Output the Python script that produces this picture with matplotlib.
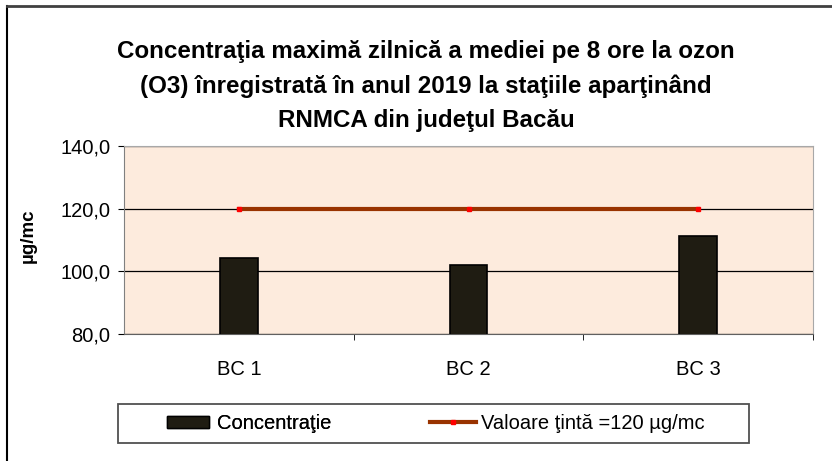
#!/usr/bin/env python3
# Concentratia maxima zilnica O3 - Bacau 2019

import matplotlib.pyplot as plt
from matplotlib.patches import Rectangle
from matplotlib.lines import Line2D

statii = ['BC 1', 'BC 2', 'BC 3']
concentratie = [104.4, 101.9, 111.3]
valoare_tinta = [120, 120, 120]
y_ticks = [80, 100, 120, 140]
y_labels = ['80,0', '100,0', '120,0', '140,0']

plt.rcParams['font.family'] = ['Liberation Sans', 'DejaVu Sans']

W, H = 832, 461
fig = plt.figure(figsize=(W / 100, H / 100), dpi=100)
ax = fig.add_axes([124 / W, 1 - 334 / H, 689 / W, 188 / H])
ax.set_facecolor('#fdebdd')

x = list(range(len(statii)))
ax.bar(x, concentratie, width=0.165, color='#1f1c12', edgecolor='black',
       linewidth=1.2, zorder=3)
ax.plot(x, valoare_tinta, color='#993300', linewidth=3, marker='s',
        markersize=3.5, markerfacecolor='red', markeredgecolor='red',
        zorder=4)

ax.set_xlim(-0.5, 2.5)
ax.set_ylim(80, 140)
ax.set_yticks(y_ticks)
ax.set_yticklabels(y_labels, fontsize=14.5)
ax.set_xticks(x)
ax.set_xticklabels(statii, fontsize=14.5)
ax.set_xticks([0.5, 1.5, 2.5], minor=True)
ax.tick_params(axis='x', which='major', length=0, pad=18.5)
ax.tick_params(axis='x', which='minor', length=4.3, direction='out')
ax.tick_params(axis='y', length=4.3, pad=5.5, direction='out')
ax.grid(axis='y', color='black', linewidth=0.9, zorder=1)

for s in ['top', 'right']:
    ax.spines[s].set_color('#a8a8a8')
ax.spines['left'].set_color('#808080')
ax.spines['bottom'].set_color('#606060')

fig.text(28 / W, 1 - 236 / H, 'µg/mc', rotation=90, ha='center', va='center',
         fontsize=13.5, fontweight='bold')

fig.text(426 / W, 1 - 86 / H, 'Concentraţia maximă zilnică a mediei pe 8 ore la ozon\n'
         '(O3) înregistrată în anul 2019 la staţiile aparţinând\n'
         'RNMCA din judeţul Bacău', ha='center', va='center',
         fontsize=17.4, fontweight='bold', linespacing=1.6)

# chenar exterior (stanga + sus)
fig.add_artist(Line2D([7 / W, 7 / W], [0, 1 - 6 / H], transform=fig.transFigure,
                      color='black', linewidth=1.5))
fig.add_artist(Line2D([7 / W, 1], [1 - 6 / H, 1 - 6 / H], transform=fig.transFigure,
                      color='#404040', linewidth=2))

# legenda
fig.add_artist(Rectangle((118 / W, 1 - 443 / H), 631 / W, 39 / H,
                         transform=fig.transFigure, fill=False,
                         edgecolor='#505050', linewidth=1.3))
leg_y = 1 - 423.5 / H
bar_handle = Rectangle((0, 0), 1, 1, facecolor='#1f1c12', edgecolor='black')
line_handle = Line2D([], [], color='#993300', linewidth=3, marker='s',
                     markersize=3.5, markerfacecolor='red', markeredgecolor='red')
leg1 = fig.legend([bar_handle], ['Concentraţie'], loc='center left',
                  bbox_to_anchor=(167 / W, leg_y), frameon=False, fontsize=14.5,
                  borderpad=0, borderaxespad=0, handlelength=2.09,
                  handleheight=0.6, handletextpad=0.37)
fig.add_artist(leg1)
fig.legend([line_handle], ['Valoare ţintă =120 µg/mc'], loc='center left',
           bbox_to_anchor=(430 / W, leg_y), frameon=False, fontsize=14.5,
           borderpad=0, borderaxespad=0, handlelength=2.29,
           handletextpad=0.25)

plt.savefig('out.png', dpi=100)
